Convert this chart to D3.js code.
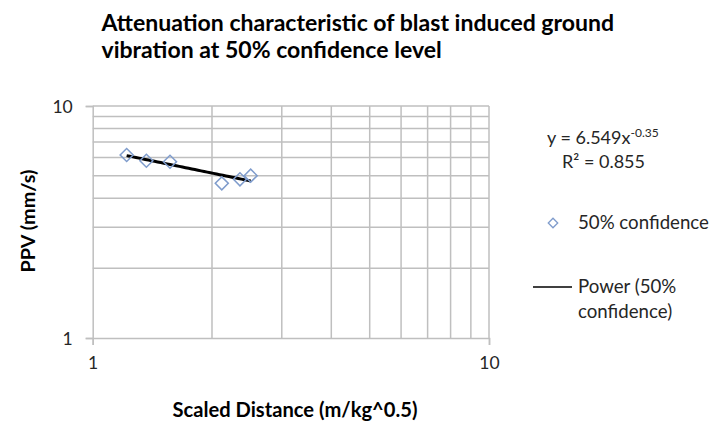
<!DOCTYPE html>
<html><head><meta charset="utf-8">
<script src="https://cdn.jsdelivr.net/npm/d3@7"></script>
<style>body{margin:0;background:#fff;} svg{display:block;font-family:Lato, "Open Sans", sans-serif;}</style>
</head><body>
<svg id="c" width="712" height="421"></svg>
<script>
const titleLines = ["Attenuation characteristic of blast induced ground", "vibration at 50% confidence level"];
const xLabel = "Scaled Distance (m/kg^0.5)";
const yLabel = "PPV (mm/s)";
const scaledDistance = [1.218, 1.366, 1.567, 2.117, 2.353, 2.504];
const ppv = [6.15, 5.81, 5.75, 4.64, 4.83, 5.01];
const fitA = 6.549, fitB = -0.35, r2 = 0.855;
const xDomain = [1, 10], yDomain = [1, 10];
const majorTicks = [1, 10];
const minorTicks = [2, 3, 4, 5, 6, 7, 8, 9];
const seriesName = "50% confidence";
const trendName = ["Power (50%", "confidence)"];

const svg = d3.select("#c");
const L = 92.7, R = 489, T = 106, B = 338;
const x = d3.scaleLog().domain(xDomain).range([L, R]);
const y = d3.scaleLog().domain(yDomain).range([B, T]);
const grid = "#bfbfbf";
const txt = "#262626";

// scale a text's font size so that its rendered width matches target
function fitSize(sel, target) {
  const base = +sel.attr("font-size");
  const w = sel.node().getComputedTextLength();
  const fs = base * target / w;
  sel.attr("font-size", fs);
  return fs;
}

// title
const t1 = svg.append("text").attr("x", 101.5).attr("y", 31).attr("font-weight", "bold")
  .attr("font-size", 20).attr("fill", "#000").text(titleLines[0]);
const tfs = fitSize(t1, 513);
svg.append("text").attr("x", 101.5).attr("y", 58).attr("font-weight", "bold")
  .attr("font-size", tfs).attr("fill", "#000").text(titleLines[1]);

// gridlines
const g = svg.append("g");
g.selectAll(".vx").data(minorTicks.concat([10])).join("line")
  .attr("x1", d => x(d)).attr("x2", d => x(d)).attr("y1", T).attr("y2", B)
  .attr("stroke", grid).attr("stroke-width", 1.5);
g.selectAll(".hy").data(minorTicks.concat([10])).join("line")
  .attr("x1", L).attr("x2", R).attr("y1", d => y(d)).attr("y2", d => y(d))
  .attr("stroke", grid).attr("stroke-width", 1.5);

// axes
const xa = svg.append("g").attr("transform", `translate(0,${B})`)
  .call(d3.axisBottom(x).tickValues(majorTicks).tickFormat(d3.format("d")).tickSize(7).tickPadding(12));
const ya = svg.append("g").attr("transform", `translate(${L},0)`)
  .call(d3.axisLeft(y).tickValues(majorTicks).tickFormat(d3.format("d")).tickSize(7).tickPadding(13));
[xa, ya].forEach(a => {
  a.select(".domain").attr("stroke", grid).attr("stroke-width", 1.5);
  a.selectAll(".tick line").attr("stroke", grid).attr("stroke-width", 1.5);
  a.selectAll(".tick text").attr("font-size", 17.5).attr("fill", txt).attr("font-family", "Lato, sans-serif");
});
ya.selectAll(".tick text").attr("dy", "0.35em");

// axis titles
const xl = svg.append("text").attr("x", 295).attr("y", 417).attr("text-anchor", "middle")
  .attr("font-weight", "bold").attr("font-size", 16).attr("fill", "#000").text(xLabel);
fitSize(xl, 245);
const yl = svg.append("text").attr("transform", "translate(35,221) rotate(-90)").attr("text-anchor", "middle")
  .attr("font-weight", "bold").attr("font-size", 16).attr("fill", "#000").text(yLabel);
fitSize(yl, 103);

// trendline
const lo = Math.log(d3.min(scaledDistance)), hi = Math.log(d3.max(scaledDistance));
const xs = d3.range(0, 41).map(i => Math.exp(lo + (hi - lo) * i / 40));
svg.append("path").datum(xs)
  .attr("d", d3.line().x(d => x(d)).y(d => y(fitA * Math.pow(d, fitB))))
  .attr("fill", "none").attr("stroke", "#000").attr("stroke-width", 3);

// markers
svg.selectAll(".pt").data(scaledDistance).join("path")
  .attr("d", d3.symbol().type(d3.symbolSquare).size(85))
  .attr("transform", (d, i) => `translate(${x(d)},${y(ppv[i])}) rotate(45)`)
  .attr("fill", "none").attr("stroke", "#7f9ccc").attr("stroke-width", 1.5);

// legend
const eq = svg.append("text").attr("x", 547).attr("y", 144).attr("font-size", 18).attr("fill", txt);
eq.append("tspan").text("y = " + fitA + "x");
eq.append("tspan").attr("dy", -7).attr("font-size", 12).text(String(fitB));
svg.append("text").attr("x", 562).attr("y", 168).attr("font-size", 18).attr("fill", txt)
  .text("R² = " + r2);

svg.append("path").attr("d", d3.symbol().type(d3.symbolSquare).size(45))
  .attr("transform", "translate(553,223) rotate(45)")
  .attr("fill", "none").attr("stroke", "#7f9ccc").attr("stroke-width", 1.3);
const sn = svg.append("text").attr("x", 578).attr("y", 229).attr("font-size", 18).attr("fill", txt).text(seriesName);
const lfs = fitSize(sn, 131);

svg.append("line").attr("x1", 533).attr("x2", 572).attr("y1", 287).attr("y2", 287)
  .attr("stroke", "#000").attr("stroke-width", 1.5);
const tn = svg.append("text").attr("font-size", lfs).attr("fill", txt);
trendName.forEach((t, i) => tn.append("tspan").attr("x", 578).attr("y", 293 + i * 25).text(t));
</script>
</body></html>
